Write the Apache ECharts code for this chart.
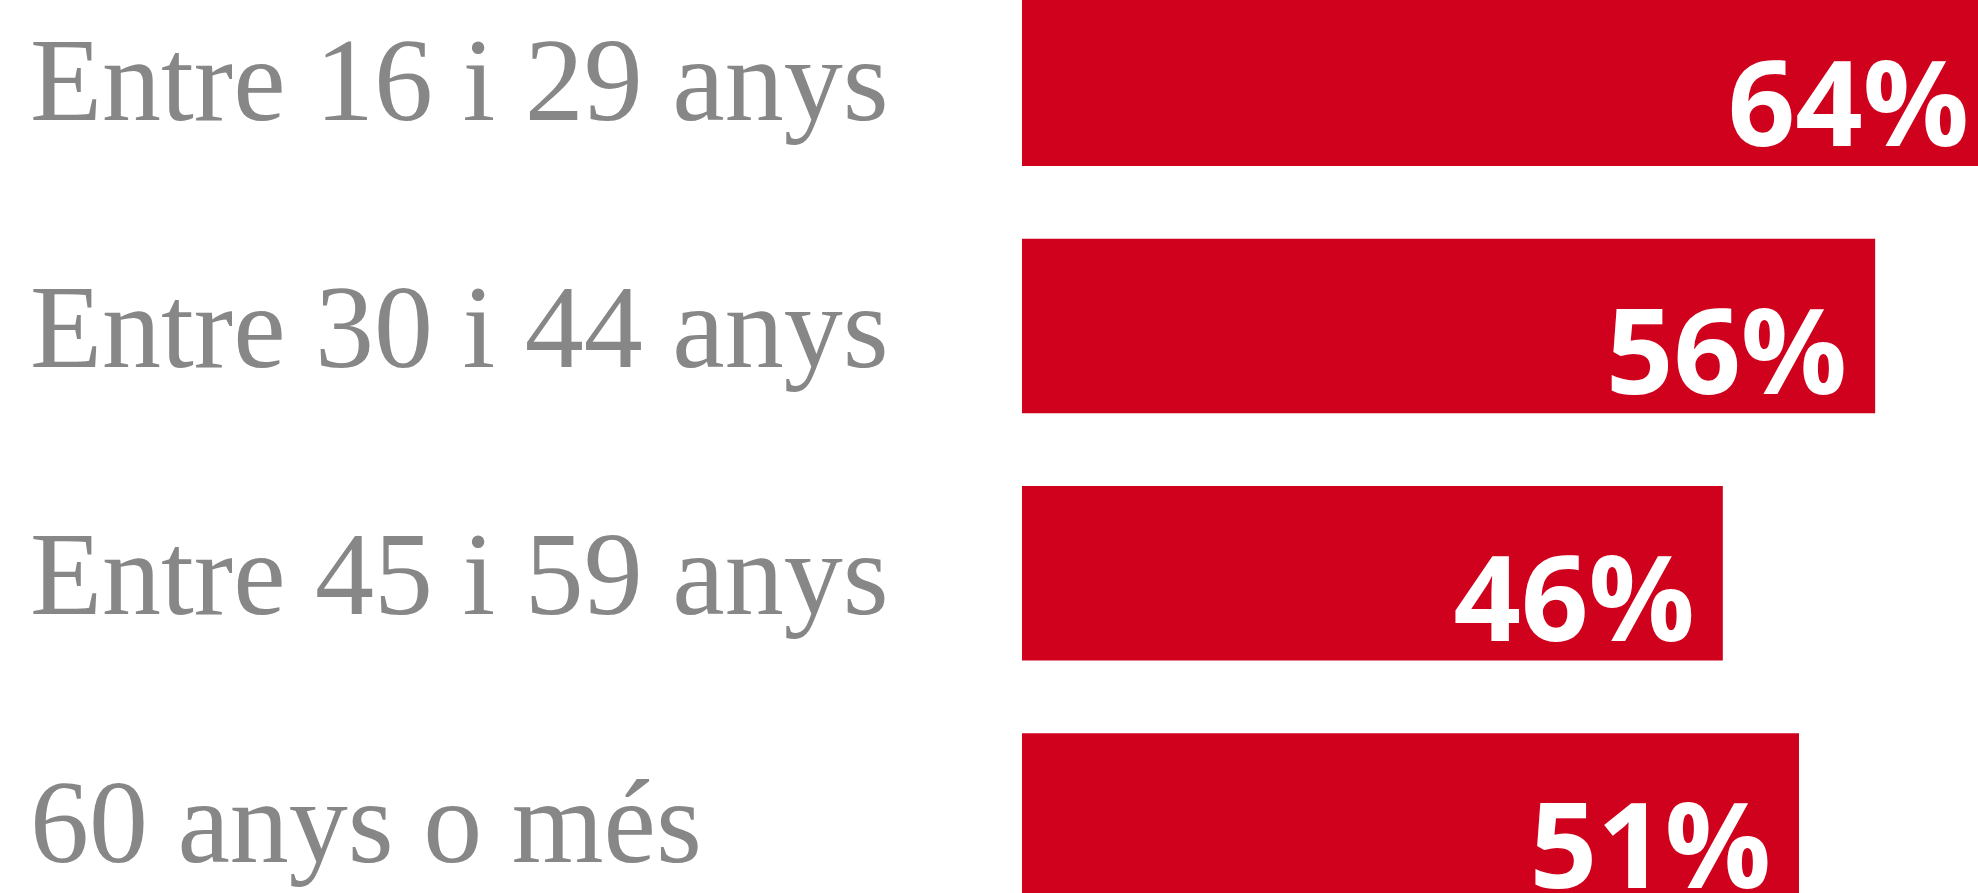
<!DOCTYPE html>
<html>
<head>
<meta charset="utf-8">
<script src="https://cdn.jsdelivr.net/npm/echarts@6/dist/echarts.min.js"></script>
<style>
html,body{margin:0;padding:0;width:1978px;height:893px;overflow:hidden;background:#fff;}
#chart{position:absolute;left:0;top:-45px;width:2700px;height:1000px;}
</style>
</head>
<body>
<div id="chart"></div>
<script>
var categories = ['Entre 16 i 29 anys', 'Entre 30 i 44 anys', 'Entre 45 i 59 anys', '60 anys o més'];
var values = [64, 56, 46, 51];

var chart = echarts.init(document.getElementById('chart'), null, {renderer: 'canvas'});
chart.setOption({
  animation: false,
  backgroundColor: '#ffffff',
  grid: {left: 1022, top: 0, width: 1523.5, height: 989.2, containLabel: false},
  xAxis: {
    type: 'value', min: 0, max: 100, show: false
  },
  yAxis: {
    type: 'category', data: categories, inverse: true,
    axisLine: {show: false}, axisTick: {show: false}, splitLine: {show: false},
    axisLabel: {
      align: 'left', margin: 992,
      formatter: function (v) { return '{t|' + v + '}'; },
      rich: {
        t: {
          fontFamily: 'Liberation Serif', fontSize: 118, color: '#878787',
          padding: [20, 0, 0, 0]
        }
      }
    }
  },
  series: [{
    type: 'bar', data: values, barWidth: 174.5,
    itemStyle: {color: '#D0011D'},
    label: {
      show: true, position: 'insideRight', distance: 28,
      formatter: '{c}%', color: '#ffffff',
      fontFamily: 'Open Sans', fontWeight: 'bold', fontSize: 118,
      offset: [0, 34]
    }
  }]
});
</script>
</body>
</html>
